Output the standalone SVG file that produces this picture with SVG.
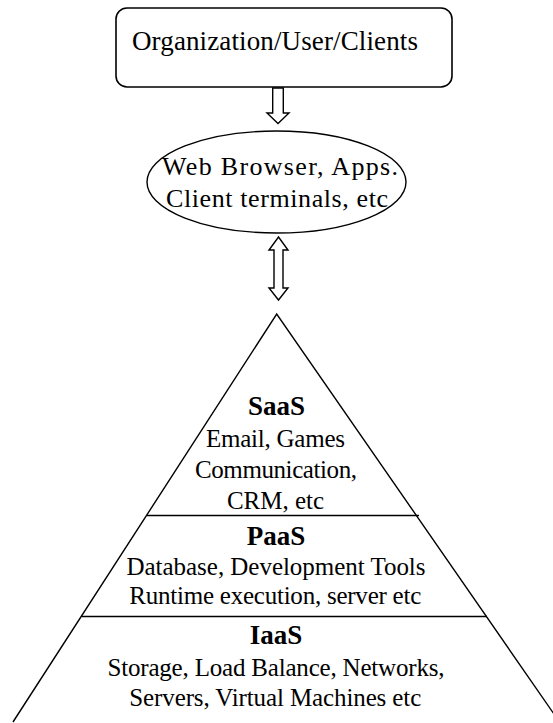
<svg xmlns="http://www.w3.org/2000/svg" width="553" height="723" viewBox="0 0 553 723">
<style>
.t{font-family:"Liberation Serif","Times New Roman",serif;font-size:25px;fill:#000}
.b{font-family:"Liberation Serif","Times New Roman",serif;font-size:27px;font-weight:bold;fill:#000}
.m{text-anchor:middle}
.s{fill:#fff;stroke:#000;stroke-width:1.4}
.ln{fill:none;stroke:#000;stroke-width:1.4}
</style>
<rect width="553" height="723" fill="#fff"/>
<g id="org">
<rect class="s" x="116" y="8" width="336" height="79" rx="11" ry="11" style="stroke-width:1.6"/>
<text class="t" x="132" y="49.5" style="font-size:27px" textLength="286" lengthAdjust="spacing">Organization/User/Clients</text>
</g>
<g id="browser">
<ellipse class="s" cx="276.5" cy="182" rx="129.5" ry="51"/>
<text class="t m" x="280" y="175" style="font-size:26px" textLength="236" lengthAdjust="spacing">Web Browser, Apps.</text>
<text class="t m" x="277" y="206.5" style="font-size:26px" textLength="222" lengthAdjust="spacing">Client terminals, etc</text>
</g>
<g id="connectors">
<polygon class="s" points="272.7,88 283.3,88 283.3,113 289,113 278,123.5 267,113 272.7,113"/>
<polygon class="s" points="278.5,237 288,250 283,250 283,288 288,288 278.5,300 269,288 274,288 274,250 269,250"/>
</g>
<g id="pyramid">
<polyline class="ln" points="13,722 276.7,314 559.5,722"/>
<line class="ln" x1="147" y1="515.5" x2="419" y2="515.5"/>
<line class="ln" x1="82" y1="616.5" x2="487" y2="616.5"/>
</g>
<g id="saas">
<text class="b m" x="276.5" y="415">SaaS</text>
<text class="t m" x="275.5" y="447" textLength="139" lengthAdjust="spacing">Email, Games</text>
<text class="t m" x="276" y="478" textLength="162" lengthAdjust="spacing">Communication,</text>
<text class="t m" x="275.5" y="509">CRM, etc</text>
</g>
<g id="paas">
<text class="b m" x="276" y="545">PaaS</text>
<text class="t m" x="276" y="575" textLength="299" lengthAdjust="spacing">Database, Development Tools</text>
<text class="t m" x="275.3" y="604" textLength="292" lengthAdjust="spacing">Runtime execution, server etc</text>
</g>
<g id="iaas">
<text class="b m" x="276" y="644">IaaS</text>
<text class="t m" x="276" y="676" textLength="337" lengthAdjust="spacing">Storage, Load Balance, Networks,</text>
<text class="t m" x="275.3" y="706" textLength="292" lengthAdjust="spacing">Servers, Virtual Machines etc</text>
</g>
</svg>
